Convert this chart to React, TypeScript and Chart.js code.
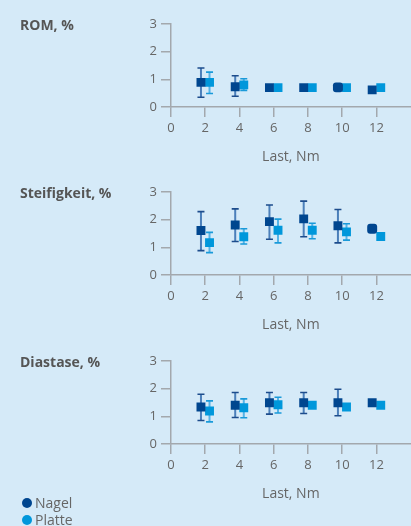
import React, { useEffect, useRef } from 'react';
import { Chart, registerables } from 'chart.js';

Chart.register(...registerables);

// ---------- data ----------
const loads = [2, 4, 6, 8, 10, 12];
const xTickValues = [0, 2, 4, 6, 8, 10, 12];
const yTickValues = [0, 1, 2, 3];
const seriesNames = ['Nagel', 'Platte'];
const panelTitles = ['ROM, %', 'Steifigkeit, %', 'Diastase, %'];
const xAxisTitle = 'Last, Nm';

const romNagel = [0.89, 0.73, 0.7, 0.7, 0.71, 0.62];
const romNagelLow = [0.35, 0.39, null, null, null, null];
const romNagelHigh = [1.41, 1.13, null, null, null, null];
const romPlatte = [0.89, 0.8, 0.7, 0.7, 0.7, 0.7];
const romPlatteLow = [0.49, 0.6, null, null, null, null];
const romPlatteHigh = [1.26, 1.02, null, null, null, null];
const romNagelShape = ['rect', 'rect', 'rect', 'rect', 'rectRounded', 'rect'];
const romPlatteShape = ['rect', 'rect', 'rect', 'rect', 'rect', 'rect'];

const steifNagel = [1.61, 1.81, 1.93, 2.03, 1.78, 1.67];
const steifNagelLow = [0.88, 1.21, 1.29, 1.38, 1.16, null];
const steifNagelHigh = [2.29, 2.39, 2.53, 2.67, 2.37, null];
const steifPlatte = [1.17, 1.38, 1.62, 1.62, 1.56, 1.39];
const steifPlatteLow = [0.81, 1.12, 1.16, 1.31, 1.26, null];
const steifPlatteHigh = [1.54, 1.67, 2.02, 1.87, 1.85, null];
const steifNagelShape = ['rect', 'rect', 'rect', 'rect', 'rect', 'rectRounded'];
const steifPlatteShape = ['rect', 'rect', 'rect', 'rect', 'rect', 'rect'];

const diastNagel = [1.34, 1.4, 1.49, 1.49, 1.49, 1.49];
const diastNagelLow = [0.85, 0.96, 1.08, 1.1, 1.02, null];
const diastNagelHigh = [1.8, 1.86, 1.86, 1.86, 1.98, null];
const diastPlatte = [1.19, 1.31, 1.42, 1.4, 1.34, 1.4];
const diastPlatteLow = [0.8, 0.95, 1.12, null, null, null];
const diastPlatteHigh = [1.56, 1.63, 1.69, null, null, null];
const diastNagelShape = ['rect', 'rect', 'rect', 'rect', 'rect', 'rect'];
const diastPlatteShape = ['rect', 'rect', 'rect', 'rect', 'rect', 'rect'];

// ---------- style ----------
const BG = '#d5eaf8';
const NAGEL = '#00468f';
const PLATTE = '#0097db';
const NAGEL_BAR = 'rgba(40,100,170,0.8)';
const NAGEL_CAP = '#1d4c8c';
const PLATTE_BAR = 'rgba(40,160,225,0.75)';
const PLATTE_CAP = '#1a9ad9';
const AXIS = '#a3a8ad';
const TEXT = '#666666';
const TITLE = '#555555';
const FONT = "'Open Sans', sans-serif";
const OFFSET = 0.25;

type Panel = {
  title: string;
  top: number;
  nagel: number[];
  nagelLow: (number | null)[];
  nagelHigh: (number | null)[];
  nagelShape: string[];
  platte: number[];
  platteLow: (number | null)[];
  platteHigh: (number | null)[];
  platteShape: string[];
};

const panels: Panel[] = [
  { title: panelTitles[0], top: 0, nagel: romNagel, nagelLow: romNagelLow, nagelHigh: romNagelHigh, nagelShape: romNagelShape, platte: romPlatte, platteLow: romPlatteLow, platteHigh: romPlatteHigh, platteShape: romPlatteShape },
  { title: panelTitles[1], top: 168, nagel: steifNagel, nagelLow: steifNagelLow, nagelHigh: steifNagelHigh, nagelShape: steifNagelShape, platte: steifPlatte, platteLow: steifPlatteLow, platteHigh: steifPlatteHigh, platteShape: steifPlatteShape },
  { title: panelTitles[2], top: 337, nagel: diastNagel, nagelLow: diastNagelLow, nagelHigh: diastNagelHigh, nagelShape: diastNagelShape, platte: diastPlatte, platteLow: diastPlatteLow, platteHigh: diastPlatteHigh, platteShape: diastPlatteShape },
];

function makeErrorBars(series: { low: (number | null)[]; high: (number | null)[]; line: string; cap: string }[]) {
  return {
    id: 'errorBars',
    beforeDatasetsDraw(chart: any) {
      const ctx = chart.ctx;
      const yScale = chart.scales.y;
      series.forEach((s, i) => {
        const meta = chart.getDatasetMeta(i);
        meta.data.forEach((pt: any, j: number) => {
          const lo = s.low[j];
          const hi = s.high[j];
          if (lo == null || hi == null) return;
          const x = pt.x;
          const yl = yScale.getPixelForValue(lo);
          const yh = yScale.getPixelForValue(hi);
          ctx.save();
          ctx.strokeStyle = s.line;
          ctx.lineWidth = 2;
          ctx.beginPath();
          ctx.moveTo(x, yl);
          ctx.lineTo(x, yh);
          ctx.stroke();
          ctx.strokeStyle = s.cap;
          ctx.lineWidth = 1.6;
          ctx.beginPath();
          ctx.moveTo(x - 3.5, yl);
          ctx.lineTo(x + 3.5, yl);
          ctx.moveTo(x - 3.5, yh);
          ctx.lineTo(x + 3.5, yh);
          ctx.stroke();
          ctx.restore();
        });
      });
    },
  };
}

function radiusFor(shapes: string[]) {
  return shapes.map((s) => (s === 'rectRounded' ? 5.8 : 6.3));
}

function PanelChart({ p }: { p: Panel }) {
  const ref = useRef<HTMLCanvasElement | null>(null);
  useEffect(() => {
    if (!ref.current) return;
    const chart = new Chart(ref.current, {
      type: 'scatter',
      data: {
        datasets: [
          {
            label: seriesNames[0],
            data: loads.map((l, j) => ({ x: l - OFFSET, y: p.nagel[j] })),
            backgroundColor: NAGEL,
            borderWidth: 0,
            pointStyle: p.nagelShape as any,
            pointRadius: radiusFor(p.nagelShape),
            showLine: false,
          },
          {
            label: seriesNames[1],
            data: loads.map((l, j) => ({ x: l + OFFSET, y: p.platte[j] })),
            backgroundColor: PLATTE,
            borderWidth: 0,
            pointStyle: p.platteShape as any,
            pointRadius: radiusFor(p.platteShape),
            showLine: false,
          },
        ],
      },
      options: {
        responsive: false,
        animation: false,
        events: [],
        layout: { padding: { top: 24, left: 0, right: 1, bottom: 0 } },
        plugins: { legend: { display: false }, tooltip: { enabled: false } },
        scales: {
          x: {
            type: 'linear',
            min: 0,
            max: 14,
            afterBuildTicks: (s: any) => {
              s.ticks = xTickValues.map((v) => ({ value: v }));
            },
            afterFit: (s: any) => {
              s.height = 61;
            },
            grid: { drawOnChartArea: false, drawTicks: true, tickLength: 10, color: AXIS, lineWidth: 1.5 },
            border: { display: true, color: AXIS, width: 1.5 },
            ticks: { color: TEXT, font: { family: FONT, size: 13 }, padding: 3, maxRotation: 0 },
            title: {
              display: true,
              text: xAxisTitle,
              color: TEXT,
              font: { family: FONT, size: 14 },
              padding: { top: 0, bottom: 2.6 },
            },
          },
          y: {
            type: 'linear',
            min: 0,
            max: 3,
            afterBuildTicks: (s: any) => {
              s.ticks = yTickValues.map((v) => ({ value: v }));
            },
            afterFit: (s: any) => {
              s.width = 171;
            },
            grid: { drawOnChartArea: false, drawTicks: true, tickLength: 10, color: AXIS, lineWidth: 1.5 },
            border: { display: true, color: AXIS, width: 1.5 },
            ticks: { color: TEXT, font: { family: FONT, size: 13 }, padding: 4 },
          },
        },
      } as any,
      plugins: [
        makeErrorBars([
          { low: p.nagelLow, high: p.nagelHigh, line: NAGEL_BAR, cap: NAGEL_CAP },
          { low: p.platteLow, high: p.platteHigh, line: PLATTE_BAR, cap: PLATTE_CAP },
        ]),
      ],
    });
    return () => chart.destroy();
  }, [p]);

  return (
    <>
      <canvas
        ref={ref}
        width={417}
        height={168}
        style={{ position: 'absolute', left: 0, top: p.top, width: 417, height: 168 }}
      />
      <div
        style={{
          position: 'absolute',
          left: 20,
          top: p.top + 16,
          font: `bold 14px ${FONT}`,
          lineHeight: '18px',
          color: TITLE,
          whiteSpace: 'nowrap',
        }}
      >
        {p.title}
      </div>
    </>
  );
}

export default function App() {
  const legendColors = [NAGEL, PLATTE];
  const legendTops = [494, 511];
  return (
    <div
      style={{
        position: 'absolute',
        left: 0,
        top: 0,
        width: 411,
        height: 526,
        overflow: 'hidden',
        background: BG,
        fontFamily: FONT,
      }}
    >
      {panels.map((p, i) => (
        <PanelChart key={i} p={p} />
      ))}
      {seriesNames.map((name, i) => (
        <div
          key={name}
          style={{
            position: 'absolute',
            left: 22,
            top: legendTops[i],
            height: 17,
            display: 'flex',
            alignItems: 'center',
            font: `14px ${FONT}`,
            color: TEXT,
          }}
        >
          <span
            style={{
              display: 'inline-block',
              width: 10,
              height: 10,
              borderRadius: '50%',
              background: legendColors[i],
              marginRight: 3,
            }}
          />
          {name}
        </div>
      ))}
    </div>
  );
}
